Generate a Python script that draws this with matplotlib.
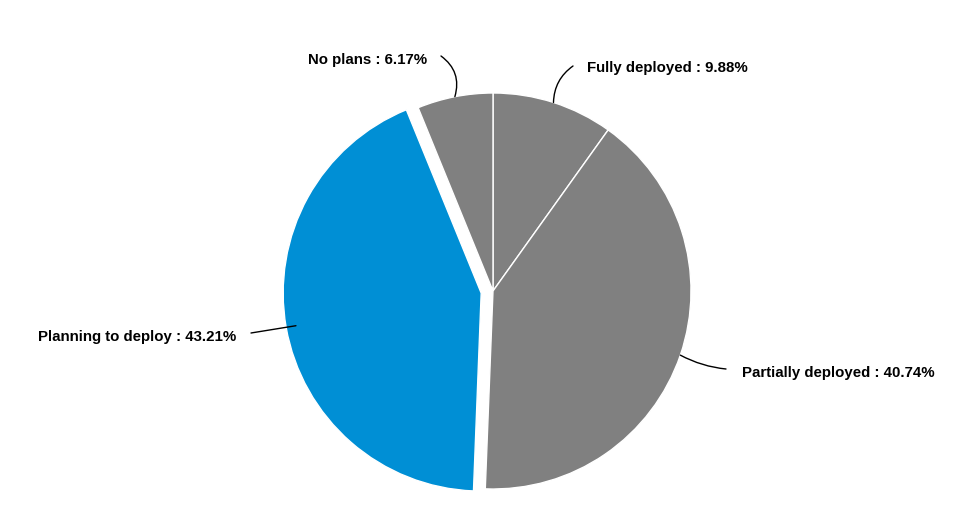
import matplotlib.pyplot as plt
import numpy as np

labels = ["Fully deployed", "Partially deployed", "Planning to deploy", "No plans"]
values = [9.88, 40.74, 43.21, 6.17]
colors = ["#808080", "#808080", "#008fd5", "#808080"]
explode = [0, 0, 12, 0]

W, H = 976, 527
cx, cy, r = 493, H - 291, 198

# text anchor (x, y from top), alignment, line start (x, y from top), curvature
label_pos = [(587, 68, "left", 573, 66, 0.25),
             (742, 373, "left", 726, 369, -0.1),
             (236, 337, "right", 251, 333, 0.0),
             (427, 60, "right", 441, 56, -0.35)]

fig = plt.figure(figsize=(W / 100, H / 100), dpi=100)
ax = fig.add_axes([0, 0, 1, 1])

# explode is in data units here (1 unit = 1 px)
wedges, _ = ax.pie(values, colors=colors, startangle=90, counterclock=False,
                   center=(cx, cy), radius=r, explode=explode,
                   wedgeprops=dict(edgecolor="white", linewidth=1))

ax.set_xlim(0, W)
ax.set_ylim(0, H)
ax.set_aspect("equal")
ax.axis("off")

for w, lab, val, (tx, ty, ha, lx, ly, rad) in zip(wedges, labels, values, label_pos):
    ang = np.deg2rad((w.theta1 + w.theta2) / 2)
    wx, wy = w.center
    rr = r * (0.95 if lab.startswith("Planning") else 1.0)
    px, py = wx + rr * np.cos(ang), wy + rr * np.sin(ang)
    ax.annotate("", xy=(px, py), xytext=(lx, H - ly),
                arrowprops=dict(arrowstyle="-", color="black", lw=1,
                                connectionstyle=f"arc3,rad={rad}",
                                shrinkA=0, shrinkB=0))
    ax.text(tx, H - ty, f"{lab} : {val:.2f}%", ha=ha, va="center",
            fontsize=10.8, fontweight="bold", family="Liberation Sans")

fig.savefig("out.png", dpi=100)
